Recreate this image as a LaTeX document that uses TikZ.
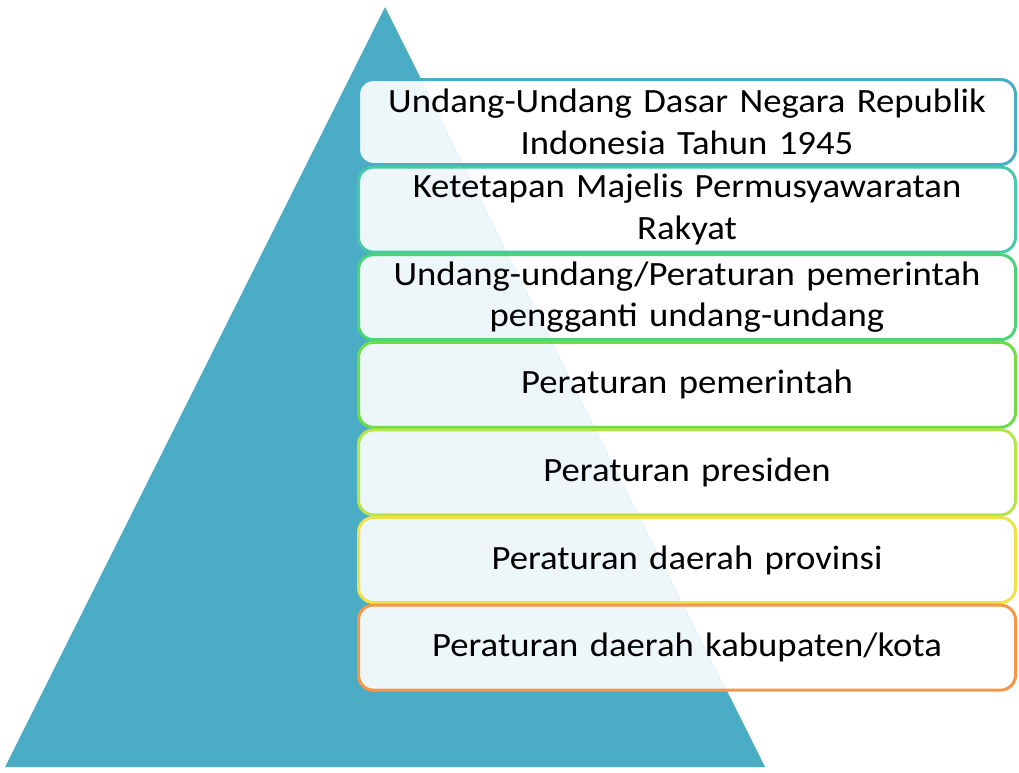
\documentclass[tikz,border=0pt]{standalone}
\usepackage{fontspec}
\setmainfont{Carlito}
\newfontfamily\boxfont[FakeStretch=1.08]{Carlito}
\definecolor{tri}{HTML}{4BACC6}
\definecolor{c1}{HTML}{4BACC6}
\definecolor{c2}{HTML}{4BC8A9}
\definecolor{c3}{HTML}{4CD378}
\definecolor{c4}{HTML}{6EDC46}
\definecolor{c5}{HTML}{B5E34A}
\definecolor{c6}{HTML}{EEE24A}
\definecolor{c7}{HTML}{F79646}
\tikzset{
  levelbox/.style={draw=#1, line width=3pt, rounded corners=15pt, fill=white, fill opacity=0.9, text opacity=1,
    minimum width=657pt, minimum height=85pt, inner sep=0pt, align=center, text width=650pt,
    font=\boxfont\fontsize{34}{41.5}\selectfont},
}
\begin{document}
\begin{tikzpicture}[x=1pt,y=-1pt]
\useasboundingbox (0,0) rectangle (1019,772);
\fill[tri] (385,7) coordinate (apex) -- (5,767) coordinate (bl) -- (765,767) coordinate (br) -- cycle;
\node[levelbox=c1] (b1) at (687,122) {Undang-Undang Dasar Negara Republik\\Indonesia Tahun 1945};
\node[levelbox=c2] (b2) at (687,209.6) {Ketetapan Majelis Permusyawaratan\\Rakyat};
\node[levelbox=c3] (b3) at (687,297.2) {Undang-undang/Peraturan pemerintah\\pengganti undang-undang};
\node[levelbox=c4] (b4) at (687,384.8) {Peraturan pemerintah};
\node[levelbox=c5] (b5) at (687,472.4) {Peraturan presiden};
\node[levelbox=c6] (b6) at (687,560) {Peraturan daerah provinsi};
\node[levelbox=c7] (b7) at (687,647.6) {Peraturan daerah kabupaten/kota};
\end{tikzpicture}
\end{document}
